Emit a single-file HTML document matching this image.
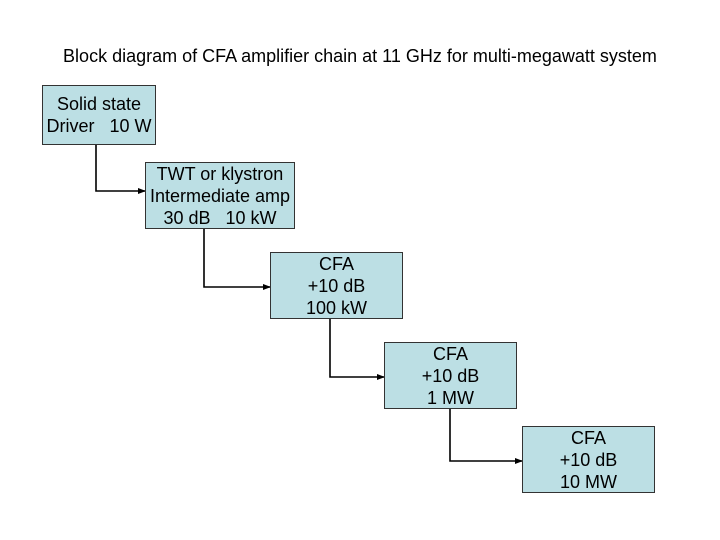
<!DOCTYPE html>
<html><head><style>
body{margin:0;width:720px;height:540px;background:#fff;position:relative;font-family:"Liberation Sans",sans-serif;overflow:hidden}
.t{position:absolute;left:0;width:720px;top:46px;text-align:center;font-size:18px;color:#000}
.b{position:absolute;background:#bcdfe4;border:1px solid #333;box-sizing:border-box;display:flex;flex-direction:column;justify-content:center;align-items:center;font-size:18px;line-height:22px;text-align:center;white-space:pre}
</style></head><body>
<div class="t">Block diagram of CFA amplifier chain at 11 GHz for multi-megawatt system</div>
<svg width="720" height="540" style="position:absolute;left:0;top:0">
<defs><marker id="a" markerWidth="8" markerHeight="8" refX="7" refY="4" orient="auto" markerUnits="userSpaceOnUse"><path d="M0,1 L8,4 L0,7z" fill="#000"/></marker></defs>
<g fill="none" stroke="#000" stroke-width="1.6" marker-end="url(#a)">
<path d="M96,144 V191 H145"/>
<path d="M204,228 V287 H270"/>
<path d="M330,318 V377 H384"/>
<path d="M450,408 V461 H522"/>
</g></svg>
<div class="b" style="left:42px;top:85px;width:114px;height:60px">Solid state
Driver   10 W</div>
<div class="b" style="left:145px;top:162px;width:150px;height:67px">TWT or klystron
Intermediate amp
30 dB   10 kW</div>
<div class="b" style="left:270px;top:252px;width:133px;height:67px">CFA
+10 dB
100 kW</div>
<div class="b" style="left:384px;top:342px;width:133px;height:67px">CFA
+10 dB
1 MW</div>
<div class="b" style="left:522px;top:426px;width:133px;height:67px">CFA
+10 dB
10 MW</div>
</body></html>
